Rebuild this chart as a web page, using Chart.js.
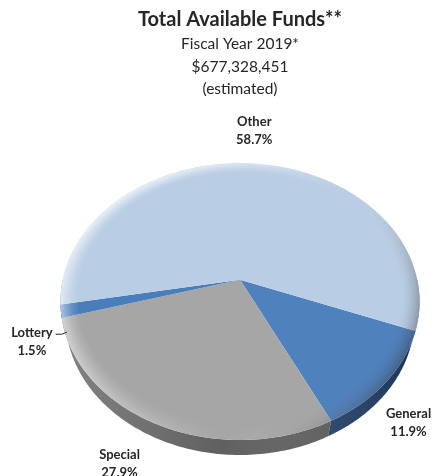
<!DOCTYPE html>
<html>
<head>
<meta charset="utf-8">
<script src="https://cdn.jsdelivr.net/npm/chart.js@4.4.1/dist/chart.umd.min.js"></script>
<style>
  html, body { margin: 0; padding: 0; background: #fff; }
  #wrap { width: 435px; height: 476px; }
</style>
</head>
<body>
<div id="wrap"><canvas id="funds"></canvas></div>
<script>
// slices, clockwise from the right-hand edge
const categories = ['General', 'Special', 'Lottery', 'Other'];
const shares = [11.9, 27.9, 1.5, 58.7];
const topColors = ['#4f81bd', '#a6a6a6', '#4a7ebb', '#b9cde5'];
const sideColors = ['#24446e', '#606060', '#30598c', '#8ea2bb'];
// label nudge from the rim point at each slice's middle (px)
const labelShift = [[22, 41], [-36, 40], [-29, 31], [0, -33]];

// tilted-disc projection
const TILT_SIN = 0.761, TILT_COS = 0.649;
const DIST = 4.1;      // camera distance in radii
const THICK = 0.153;   // slab thickness in radii

const pie3d = {
  id: 'pie3d',
  beforeDatasetsDraw(chart) {
    const ctx = chart.ctx;
    const arcs = chart.getDatasetMeta(0).data;
    const cx = arcs[0].x, cy = arcs[0].y, R = arcs[0].outerRadius;
    const K = R * DIST;
    const proj = (t, r, y) => {
      const x = r * Math.cos(t), z = r * Math.sin(t);
      const D = DIST - z * TILT_COS + y * TILT_SIN;
      return [cx + K * x / D, cy + K * (z * TILT_SIN + y * TILT_COS) / D];
    };
    const step = Math.PI / 180;

    ctx.save();
    // side walls, only the front half shows
    const sidePath = new Path2D();
    arcs.forEach((arc, i) => {
      for (let k = -1; k <= 2; k++) {
        const a = Math.max(arc.startAngle, 2 * Math.PI * k);
        const b = Math.min(arc.endAngle, 2 * Math.PI * k + Math.PI);
        if (b <= a) continue;
        const p = new Path2D();
        let first = true;
        for (let t = a; t < b; t += step) {
          const q = proj(t, 1, 0);
          if (first) { p.moveTo(q[0], q[1]); first = false; } else p.lineTo(q[0], q[1]);
        }
        let q = proj(b, 1, 0); p.lineTo(q[0], q[1]);
        for (let t = b; t > a; t -= step) {
          q = proj(t, 1, THICK); p.lineTo(q[0], q[1]);
        }
        q = proj(a, 1, THICK); p.lineTo(q[0], q[1]);
        p.closePath();
        ctx.fillStyle = sideColors[i];
        ctx.fill(p);
        sidePath.addPath(p);
      }
    });
    ctx.save();
    ctx.clip(sidePath);
    const sg = ctx.createLinearGradient(cx - R, 0, cx + R, 0);
    sg.addColorStop(0, 'rgba(255,255,255,0.22)');
    sg.addColorStop(0.45, 'rgba(255,255,255,0)');
    sg.addColorStop(1, 'rgba(0,0,0,0.25)');
    ctx.fillStyle = sg;
    ctx.fillRect(cx - R - 5, cy, 2 * R + 10, R * 1.3);
    ctx.restore();

    // top faces
    const ring = (r) => {
      const p = new Path2D();
      for (let t = 0; t <= 2 * Math.PI + 1e-6; t += step) {
        const q = proj(t, r, 0);
        if (t === 0) p.moveTo(q[0], q[1]); else p.lineTo(q[0], q[1]);
      }
      p.closePath();
      return p;
    };
    arcs.forEach((arc, i) => {
      const p = new Path2D();
      const c0 = proj(0, 0, 0);
      p.moveTo(c0[0], c0[1]);
      for (let t = arc.startAngle; t < arc.endAngle; t += step) {
        const q = proj(t, 1, 0); p.lineTo(q[0], q[1]);
      }
      const q = proj(arc.endAngle, 1, 0); p.lineTo(q[0], q[1]);
      p.closePath();
      ctx.fillStyle = topColors[i];
      ctx.fill(p);
    });

    // soft bevel round the rim of the top face
    ctx.save();
    ctx.clip(ring(1));
    const bg = ctx.createLinearGradient(cx - R, cy - R * 0.4, cx + R, cy + R * 0.6);
    bg.addColorStop(0, 'rgba(255,255,255,0.75)');
    bg.addColorStop(0.4, 'rgba(255,255,255,0.25)');
    bg.addColorStop(0.62, 'rgba(255,255,255,0)');
    bg.addColorStop(1, 'rgba(0,0,0,0.45)');
    ctx.strokeStyle = bg;
    ctx.lineWidth = 2.4;
    const N = 16;
    for (let j = 0; j < N; j++) {
      ctx.globalAlpha = Math.pow(1 - j / N, 1.6) * 0.55;
      ctx.stroke(ring(1 - j * 0.0065));
    }
    ctx.restore();

    // labels
    ctx.font = 'bold 13px Lato';
    ctx.fillStyle = '#262626';
    ctx.textAlign = 'center';
    ctx.textBaseline = 'middle';
    arcs.forEach((arc, i) => {
      const mid = (arc.startAngle + arc.endAngle) / 2;
      const rim = proj(mid, 1, 0);
      const lx = rim[0] + labelShift[i][0], ly = rim[1] + labelShift[i][1];
      ctx.fillText(categories[i], lx, ly - 9);
      ctx.fillText(shares[i].toFixed(1) + '%', lx, ly + 9);
      if (categories[i] === 'Lottery') {
        // short leader from the label to the slab edge
        const w = ctx.measureText(categories[i]).width;
        const end = proj(mid, 1, THICK);
        ctx.strokeStyle = '#262626';
        ctx.lineWidth = 1;
        ctx.beginPath();
        ctx.moveTo(lx + w / 2 + 3, ly - 8);
        ctx.lineTo(lx + w / 2 + 9, ly - 8);
        ctx.lineTo(end[0] + 1, end[1] + 4);
        ctx.stroke();
      }
    });
    ctx.restore();
    return false;
  }
};

new Chart(document.getElementById('funds'), {
  type: 'pie',
  data: {
    labels: categories,
    datasets: [{
      data: shares,
      backgroundColor: topColors,
      borderWidth: 0,
      hoverOffset: 0
    }]
  },
  options: {
    responsive: true,
    maintainAspectRatio: false,
    animation: false,
    events: [],
    rotation: 111,
    layout: { padding: { top: 0, left: 62, right: 17, bottom: 19 } },
    plugins: {
      legend: { display: false },
      tooltip: { enabled: false },
      title: {
        display: true,
        text: 'Total Available Funds**',
        color: '#262626',
        font: { family: 'Lato', size: 20, weight: 'bold', lineHeight: 1.2 },
        padding: { top: 8, bottom: 1 }
      },
      subtitle: {
        display: true,
        text: ['Fiscal Year 2019*', '$677,328,451', '(estimated)'],
        color: '#262626',
        font: { family: 'Lato', size: 15.5, lineHeight: 1.45 },
        padding: { top: 0, bottom: 2 }
      }
    }
  },
  plugins: [pie3d]
});
</script>
</body>
</html>
